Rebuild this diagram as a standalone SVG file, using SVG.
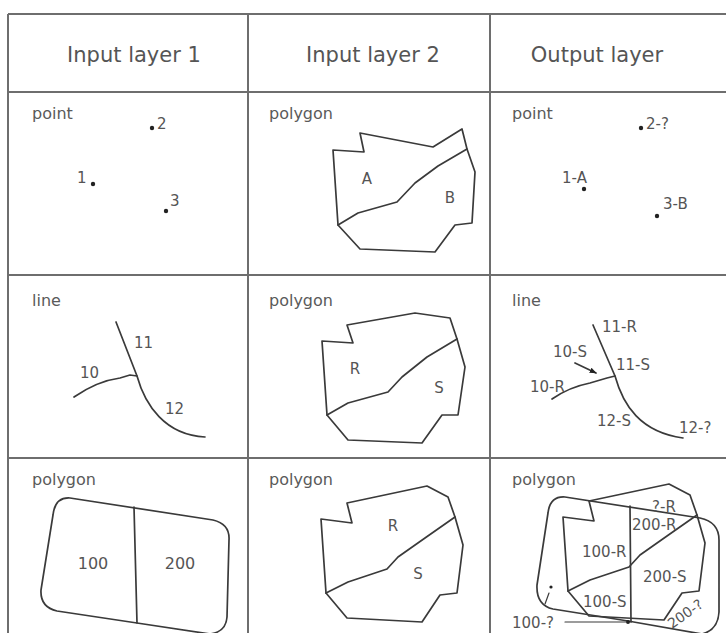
<svg xmlns="http://www.w3.org/2000/svg" width="726" height="633" viewBox="0 0 726 633">
<defs>
<style>
.grid{stroke:#6e6e6e;stroke-width:2;fill:none}
.shape{stroke:#3a3a3a;stroke-width:1.7;fill:none;stroke-linejoin:round;stroke-linecap:round}
.hdr{font-family:"DejaVu Sans",sans-serif;font-size:21px;fill:#555;text-anchor:middle}
.kind{font-family:"DejaVu Sans",sans-serif;font-size:16px;fill:#5a5a5a}
.lbl{font-family:"DejaVu Sans",sans-serif;font-size:15px;fill:#555}
.mid{text-anchor:middle}
.dot{fill:#222}
</style>
<marker id="ah" viewBox="0 0 10 10" refX="9" refY="5" markerWidth="7" markerHeight="7" orient="auto" markerUnits="userSpaceOnUse">
<path d="M0,1 L10,5 L0,9 Z" fill="#222"/>
</marker>
</defs>
<rect width="726" height="633" fill="#fff"/>
<g id="table" class="grid">
<line x1="8" y1="14" x2="726" y2="14"/>
<line x1="8" y1="92" x2="726" y2="92"/>
<line x1="8" y1="275" x2="726" y2="275"/>
<line x1="8" y1="458" x2="726" y2="458"/>
<line x1="8" y1="14" x2="8" y2="633"/>
<line x1="248" y1="14" x2="248" y2="633"/>
<line x1="490" y1="14" x2="490" y2="633"/>
</g>
<g id="header">
<text class="hdr" x="134" y="62">Input layer 1</text>
<text class="hdr" x="373" y="62">Input layer 2</text>
<text class="hdr" x="597" y="62">Output layer</text>
</g>
<g id="r1c1">
<text class="kind" x="32" y="119">point</text>
<circle class="dot" cx="93" cy="184" r="2.2"/>
<text class="lbl" x="77" y="183">1</text>
<circle class="dot" cx="152" cy="128" r="2.2"/>
<text class="lbl" x="157" y="129">2</text>
<circle class="dot" cx="166" cy="211" r="2.2"/>
<text class="lbl" x="170" y="206">3</text>
</g>
<g id="r1c2">
<text class="kind" x="269" y="119">polygon</text>
<polygon class="shape" points="333,150 364,152 360,133 433,147 462,129 467,149 475,172 472,223 455,225 435,252 360,249 338,225"/>
<polyline class="shape" points="338,225 358,213 397,202 415,183 438,166 467,149"/>
<text class="lbl mid" x="367" y="184">A</text>
<text class="lbl mid" x="450" y="203">B</text>
</g>
<g id="r1c3">
<text class="kind" x="512" y="119">point</text>
<circle class="dot" cx="641" cy="128" r="2.2"/>
<text class="lbl" x="646" y="129">2-?</text>
<circle class="dot" cx="584" cy="189" r="2.2"/>
<text class="lbl" x="562" y="183">1-A</text>
<circle class="dot" cx="657" cy="216" r="2.2"/>
<text class="lbl" x="663" y="209">3-B</text>
</g>
<g id="r2c1">
<text class="kind" x="32" y="306">line</text>
<path class="shape" d="M116,322 L137,376 C145,405 165,435 205,437"/>
<path class="shape" d="M74,397 C90,386 105,380 120,378 L130,375 L137,376"/>
<text class="lbl" x="134" y="348">11</text>
<text class="lbl" x="80" y="378">10</text>
<text class="lbl" x="165" y="414">12</text>
</g>
<g id="r2c2">
<text class="kind" x="269" y="306">polygon</text>
<polygon class="shape" points="322,341 353,343 347,325 415,313 450,318 457,339 465,367 458,415 442,415 422,443 348,440 327,415"/>
<polyline class="shape" points="327,415 348,403 388,392 402,377 427,357 457,339"/>
<text class="lbl mid" x="355" y="374">R</text>
<text class="lbl mid" x="439" y="393">S</text>
</g>
<g id="r2c3">
<text class="kind" x="512" y="306">line</text>
<path class="shape" d="M593,325 L615,376 C623,405 640,432 683,438"/>
<path class="shape" d="M552,399 C565,390 575,386 590,383 L607,378 L615,376"/>
<text class="lbl" x="602" y="332">11-R</text>
<text class="lbl" x="553" y="357">10-S</text>
<text class="lbl" x="616" y="370">11-S</text>
<text class="lbl" x="530" y="392">10-R</text>
<text class="lbl" x="597" y="426">12-S</text>
<text class="lbl" x="679" y="433">12-?</text>
</g>
<g id="r3c1">
<text class="kind" x="32" y="485">polygon</text>
<path class="shape" d="M53,515 Q55,497 70,498 L213,520 Q230,524 229,540 L227,617 Q226,632 210,634 L137,623 L57,611 Q40,607 41,590 Z"/>
<line class="shape" x1="134" y1="507" x2="137" y2="623"/>
<text class="lbl mid" x="93" y="569" style="font-size:16px">100</text>
<text class="lbl mid" x="180" y="569" style="font-size:16px">200</text>
</g>
<g id="r3c2">
<text class="kind" x="269" y="485">polygon</text>
<polygon class="shape" points="321,519 352,523 347,503 427,486 448,497 455,517 463,545 457,593 440,595 422,622 347,618 326,593"/>
<polyline class="shape" points="326,593 348,582 387,569 398,557 425,538 455,517"/>
<text class="lbl mid" x="393" y="531">R</text>
<text class="lbl mid" x="418" y="579">S</text>
</g>
<g id="r3c3">
<text class="kind" x="512" y="485">polygon</text>
<path class="shape" d="M548,513 Q550,496 565,497 L700,518 Q719,522 719,540 L719,612 Q718,630 702,634 L628,621 L553,609 Q536,605 537,585 Z"/>
<line class="shape" x1="630" y1="506" x2="631" y2="622"/>
<polygon class="shape" points="563,517 594,521 589,501 669,484 690,495 697,515 705,543 699,591 682,593 664,620 589,616 568,591"/>
<polyline class="shape" points="568,591 590,580 629,567 640,555 667,536 697,515"/>
<text class="lbl mid" x="664" y="512">?-R</text>
<text class="lbl" x="632" y="530">200-R</text>
<text class="lbl" x="582" y="557">100-R</text>
<text class="lbl" x="643" y="582">200-S</text>
<text class="lbl" x="583" y="607">100-S</text>
<text class="lbl" x="512" y="628">100-?</text>
<text class="lbl" x="672" y="629" transform="rotate(-35 672 629)" style="font-size:14px">200-?</text>
<circle class="dot" cx="551" cy="587" r="1.6"/>
<circle class="dot" cx="628" cy="622" r="2"/>
</g>
<g id="connectors">
<line class="shape" x1="575" y1="363" x2="596" y2="373" marker-end="url(#ah)"/>
<line class="shape" x1="545" y1="604" x2="549" y2="593" style="stroke-width:1.2"/>
<line class="shape" x1="565" y1="622" x2="626" y2="622" style="stroke-width:1.2"/>
</g>
</svg>
